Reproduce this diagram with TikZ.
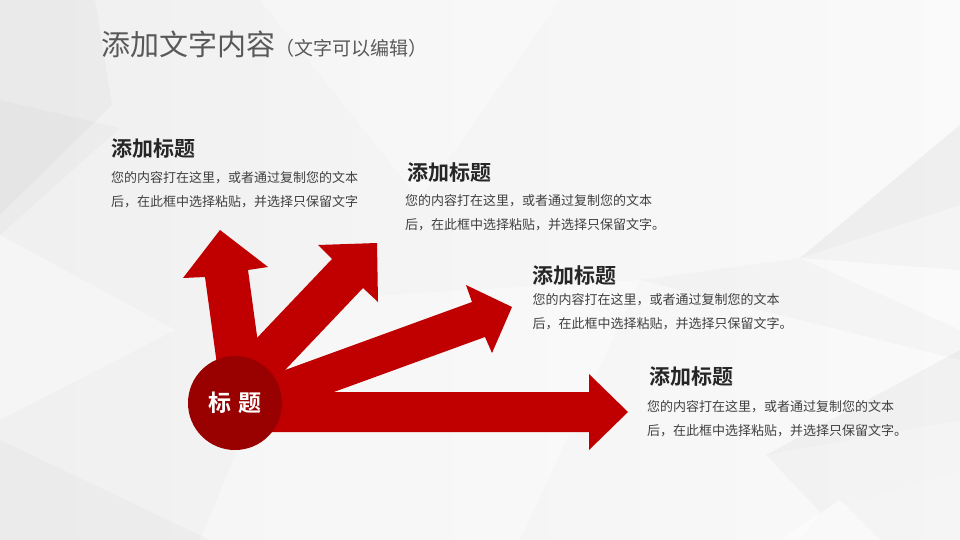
\documentclass[tikz,border=0pt]{standalone}
\usepackage{fontspec}
\newfontfamily\cjk{Noto Sans CJK SC}
\newfontfamily\cjkb{Noto Sans CJK SC Bold}
\definecolor{arrowred}{HTML}{C00000}
\definecolor{circred}{HTML}{990000}
\definecolor{titlegray}{HTML}{595959}
\definecolor{headdark}{HTML}{262626}
\definecolor{bodygray}{HTML}{404040}
\begin{document}
\begin{tikzpicture}[x=1pt,y=-1pt,
  facet/.style={fill=black,draw=none},
  redarrow/.style={fill=arrowred,draw=none},
  titletext/.style={anchor=base west,inner sep=0pt,text=titlegray,font=\cjk\fontsize{29}{29}\selectfont},
  subtext/.style={anchor=base west,inner sep=0pt,text=titlegray,font=\cjk\fontsize{19}{19}\selectfont},
  headtext/.style={anchor=base west,inner sep=0pt,text=headdark,font=\cjkb\fontsize{21}{21}\selectfont},
  bodytext/.style={anchor=base west,inner sep=0pt,text=bodygray,font=\cjk\fontsize{13}{13}\selectfont},
  hub/.style={circle,fill=circred,draw=none,minimum size=94pt,inner sep=0pt,text=white,font=\cjkb\fontsize{23}{23}\selectfont}
]
% background
\shade[left color=black!6, right color=black!2] (0,0) rectangle (960,540);
\useasboundingbox (0,0) rectangle (960,540);
\fill[facet,opacity=0.025] (0,0) -- (95,0) -- (112,105) -- (0,215) -- cycle;
\fill[facet,opacity=0.02] (0,100) -- (120,128) -- (0,235) -- cycle;
\fill[white,opacity=0.35] (0,235) -- (175,330) -- (0,420) -- cycle;
\fill[white,opacity=0.3] (260,0) -- (560,0) -- (420,200) -- cycle;
\fill[white,opacity=0.35] (300,300) -- (640,280) -- (520,540) -- (200,540) -- cycle;
\fill[facet,opacity=0.02] (0,440) -- (210,540) -- (0,540) -- cycle;
\fill[facet,opacity=0.045] (960,125) -- (960,205) -- (800,258) -- cycle;
\fill[facet,opacity=0.025] (800,258) -- (960,205) -- (960,270) -- cycle;
\fill[facet,opacity=0.02] (640,280) -- (800,258) -- (960,330) -- (960,360) -- cycle;
\fill[facet,opacity=0.035] (960,350) -- (960,420) -- (766,455) -- cycle;
\fill[facet,opacity=0.025] (766,455) -- (960,420) -- (960,470) -- (820,512) -- cycle;
\fill[facet,opacity=0.02] (820,512) -- (960,470) -- (960,540) -- (800,540) -- cycle;
\fill[white,opacity=0.5] (780,540) -- (840,500) -- (880,540) -- cycle;

% title
\node[titletext] (title) at (101,56) {添加文字内容};
\node[subtext] (subtitle) at (title.base east) {（文字可以编辑）};

% arrows
\coordinate (c) at (235,403);
\fill[redarrow] (219.9,386) -- (205,277) -- (183,278) -- (220,230) -- (268,267) -- (248,270) -- (262.9,379) -- cycle;
\fill[redarrow] (228.6,367.8) -- (332,259) -- (318,245) -- (377,243) -- (378,302) -- (363,288) -- (259.6,396.8) -- cycle;
\fill[redarrow] (237,387.5) -- (472,302) -- (466,285) -- (512,307) -- (492,353) -- (485,337) -- (250,422.5) -- cycle;
\fill[redarrow] (235,392) -- (589,392) -- (589,374) -- (628,412) -- (589,450) -- (589,432) -- (235,432) -- cycle;

% hub
\node[hub] (hub) at (c) {标\,\,题};

% block 1
\node[headtext] (h1) at (111,156.5) {添加标题};
\node[bodytext] (b1a) at (111,182.5) {您的内容打在这里，或者通过复制您的文本};
\node[bodytext] (b1b) at (111,206.5) {后，在此框中选择粘贴，并选择只保留文字};
% block 2
\node[headtext] (h2) at (407,180) {添加标题};
\node[bodytext] (b2a) at (405,205) {您的内容打在这里，或者通过复制您的文本};
\node[bodytext] (b2b) at (405,229) {后，在此框中选择粘贴，并选择只保留文字。};
% block 3
\node[headtext] (h3) at (532.5,283) {添加标题};
\node[bodytext] (b3a) at (532.5,304) {您的内容打在这里，或者通过复制您的文本};
\node[bodytext] (b3b) at (532.5,328) {后，在此框中选择粘贴，并选择只保留文字。};
% block 4
\node[headtext] (h4) at (649,384.5) {添加标题};
\node[bodytext] (b4a) at (647,411) {您的内容打在这里，或者通过复制您的文本};
\node[bodytext] (b4b) at (647,435) {后，在此框中选择粘贴，并选择只保留文字。};
\end{tikzpicture}
\end{document}
